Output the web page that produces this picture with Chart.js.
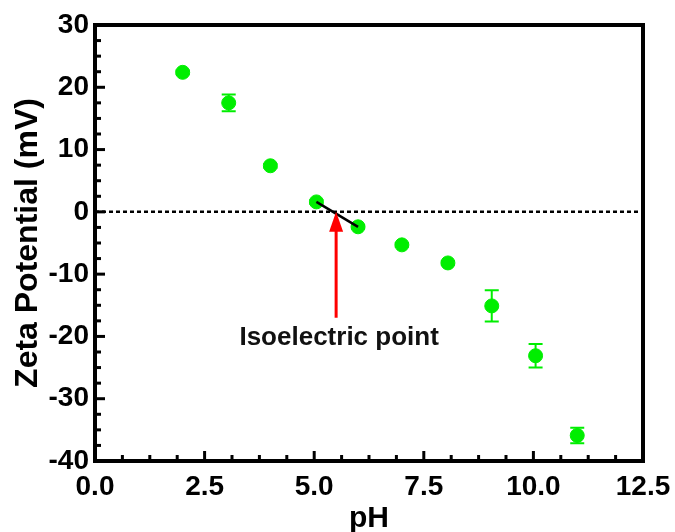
<!DOCTYPE html>
<html>
<head>
<meta charset="utf-8">
<script src="https://cdn.jsdelivr.net/npm/chart.js@4.4.0/dist/chart.umd.min.js"></script>
<style>
  html, body { margin: 0; padding: 0; background: #fff; }
  #wrap { width: 675px; height: 532px; }
</style>
</head>
<body>
<div id="wrap"><canvas id="zetaChart" width="675" height="532"></canvas></div>
<script>
// values
const phValues = [2.0, 3.05, 4.0, 5.05, 6.0, 7.0, 8.05, 9.05, 10.05, 11.0];
const zetaValues = [22.4, 17.5, 7.4, 1.6, -2.4, -5.3, -8.2, -15.1, -23.1, -35.9];
const zetaErrors = [0.3, 1.35, 0.3, 0.3, 0.3, 0.3, 0.3, 2.5, 1.9, 1.25];

// the two points that bracket the isoelectric point
const bracketIdx = [3, 4];
const isoelectricPh = 5.5;
const arrowFrom = -17;
const labelAt = -20.2;
const labelText = "Isoelectric point";

const xTicksMajor = 2.5;
const yTicksMajor = 10;

const GREEN = "#00ee00";
const FONT = "'Liberation Sans', Arial, sans-serif";

const points = phValues.map((x, i) => ({ x: x, y: zetaValues[i] }));
const bracketLine = bracketIdx.map(i => points[i]);

// dashed zero line, error bars, arrow, label, inward ticks, frame
const extras = {
  id: "extras",
  beforeDatasetsDraw(chart) {
    const { ctx, chartArea, scales } = chart;
    const xs = scales.x, ys = scales.y;
    ctx.save();
    // zero line
    ctx.strokeStyle = "#000";
    ctx.lineWidth = 2.5;
    ctx.setLineDash([4, 3]);
    ctx.beginPath();
    ctx.moveTo(chartArea.left, ys.getPixelForValue(0));
    ctx.lineTo(chartArea.right + 4, ys.getPixelForValue(0));
    ctx.stroke();
    ctx.setLineDash([]);
    // error bars
    ctx.strokeStyle = GREEN;
    ctx.lineWidth = 2;
    phValues.forEach((x, i) => {
      const px = xs.getPixelForValue(x);
      const top = ys.getPixelForValue(zetaValues[i] + zetaErrors[i]);
      const bot = ys.getPixelForValue(zetaValues[i] - zetaErrors[i]);
      ctx.beginPath();
      ctx.moveTo(px, top); ctx.lineTo(px, bot);
      ctx.moveTo(px - 7, top); ctx.lineTo(px + 7, top);
      ctx.moveTo(px - 7, bot); ctx.lineTo(px + 7, bot);
      ctx.stroke();
    });
    ctx.restore();
  },
  afterDatasetsDraw(chart) {
    const { ctx, scales } = chart;
    const xs = scales.x, ys = scales.y;
    const ax = xs.getPixelForValue(isoelectricPh);
    const tipY = ys.getPixelForValue(0);
    const baseY = ys.getPixelForValue(arrowFrom);
    ctx.save();
    ctx.strokeStyle = "#ff0000";
    ctx.fillStyle = "#ff0000";
    ctx.lineWidth = 3;
    ctx.beginPath();
    ctx.moveTo(ax, baseY);
    ctx.lineTo(ax, tipY + 18);
    ctx.stroke();
    ctx.beginPath();
    ctx.moveTo(ax, tipY);
    ctx.lineTo(ax - 7, tipY + 20);
    ctx.lineTo(ax + 7, tipY + 20);
    ctx.closePath();
    ctx.fill();
    // label
    ctx.fillStyle = "#111";
    ctx.font = "bold 26px " + FONT;
    ctx.textAlign = "center";
    ctx.textBaseline = "middle";
    ctx.fillText(labelText, ax + 3, ys.getPixelForValue(labelAt));
    ctx.restore();
  },
  afterDraw(chart) {
    const { ctx, chartArea, scales } = chart;
    const xs = scales.x, ys = scales.y;
    ctx.save();
    ctx.strokeStyle = "#000";
    ctx.lineWidth = 3;
    ctx.lineCap = "butt";
    // x ticks point up into the plot
    xs.ticks.forEach(t => {
      const px = xs.getPixelForValue(t.value);
      const major = Math.abs(t.value / xTicksMajor - Math.round(t.value / xTicksMajor)) < 1e-6;
      ctx.beginPath();
      ctx.moveTo(px, chartArea.bottom);
      ctx.lineTo(px, chartArea.bottom - (major ? 10 : 6));
      ctx.stroke();
    });
    // y ticks point right into the plot
    ys.ticks.forEach(t => {
      const py = ys.getPixelForValue(t.value);
      const major = Math.abs(t.value / yTicksMajor - Math.round(t.value / yTicksMajor)) < 1e-6;
      ctx.beginPath();
      ctx.moveTo(chartArea.left, py);
      ctx.lineTo(chartArea.left + (major ? 10 : 6), py);
      ctx.stroke();
    });
    // frame
    ctx.lineWidth = 4;
    ctx.strokeRect(chartArea.left, chartArea.top, chartArea.right - chartArea.left, chartArea.bottom - chartArea.top);
    ctx.restore();
  }
};

new Chart(document.getElementById("zetaChart"), {
  type: "scatter",
  data: {
    datasets: [
      {
        type: "line",
        data: bracketLine,
        borderColor: "#000",
        borderWidth: 2.5,
        pointRadius: 0,
        fill: false
      },
      {
        data: points,
        backgroundColor: GREEN,
        borderColor: GREEN,
        pointRadius: 7,
        pointHoverRadius: 7
      }
    ]
  },
  options: {
    responsive: false,
    animation: false,
    layout: { padding: { top: 25, right: 32, left: 0, bottom: 0 } },
    plugins: { legend: { display: false }, tooltip: { enabled: false } },
    scales: {
      x: {
        type: "linear",
        min: 0,
        max: 12.5,
        grid: { display: false, drawTicks: false },
        border: { display: false },
        ticks: {
          stepSize: 0.625,
          autoSkip: false,
          maxRotation: 0,
          padding: 9,
          color: "#000",
          font: { family: FONT, size: 28, weight: "bold" },
          callback: v => (Math.abs(v / xTicksMajor - Math.round(v / xTicksMajor)) < 1e-6 ? v.toFixed(1) : "")
        },
        title: {
          display: true,
          text: "pH",
          color: "#000",
          font: { family: FONT, size: 30, weight: "bold", lineHeight: 0.9 },
          padding: { top: 0, bottom: 0 }
        },
        afterFit(scale) {
          scale.height = 71;
          scale.paddingLeft = 0;
          scale.paddingRight = 0;
        }
      },
      y: {
        type: "linear",
        min: -40,
        max: 30,
        grid: { display: false, drawTicks: false },
        border: { display: false },
        ticks: {
          stepSize: 2.5,
          autoSkip: false,
          padding: 6,
          color: "#000",
          font: { family: FONT, size: 28, weight: "bold" },
          callback: v => (Math.abs(v / yTicksMajor - Math.round(v / yTicksMajor)) < 1e-6 ? String(v) : "")
        },
        title: {
          display: true,
          text: "Zeta Potential (mV)",
          color: "#000",
          font: { family: FONT, size: 32, weight: "bold", lineHeight: 1 },
          padding: { top: 12, bottom: 0 }
        },
        afterFit(scale) {
          scale.width = 95;
          scale.paddingTop = 0;
          scale.paddingBottom = 0;
        }
      }
    }
  },
  plugins: [extras]
});
</script>
</body>
</html>
